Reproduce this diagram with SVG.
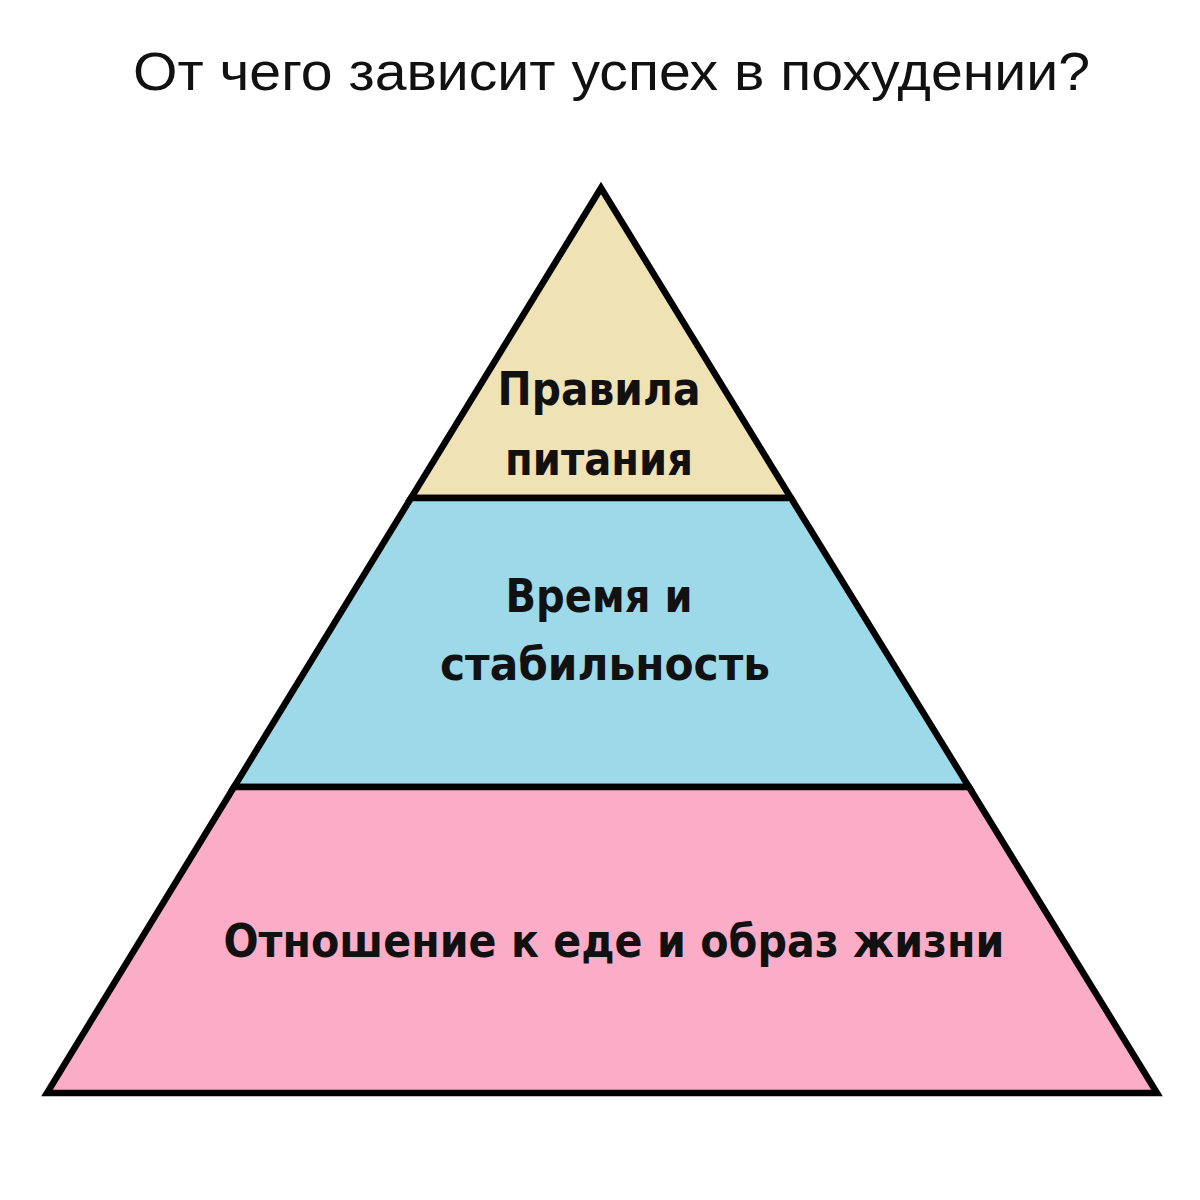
<svg xmlns="http://www.w3.org/2000/svg" width="1200" height="1200" viewBox="0 0 1200 1200">
<style>
.title{font-family:"Liberation Sans","DejaVu Sans",sans-serif;font-size:53px;fill:#111}
.lbl{font-family:"DejaVu Sans","Liberation Sans",sans-serif;font-weight:bold;font-size:47px;fill:#111;text-anchor:middle}
.layer{stroke:#000;stroke-width:6.5;stroke-linejoin:miter}
</style>
<rect width="1200" height="1200" fill="#fff"/>
<text class="title" x="133" y="90" textLength="957" lengthAdjust="spacingAndGlyphs">От чего зависит успех в похудении?</text>
<g id="top">
<polygon class="layer" points="601,188 791,498 411,498" fill="#EFE3B5"/>
<text class="lbl" x="599" y="405" textLength="203" lengthAdjust="spacingAndGlyphs">Правила</text>
<text class="lbl" x="599" y="475" textLength="188" lengthAdjust="spacingAndGlyphs">питания</text>
</g>
<g id="middle">
<polygon class="layer" points="411,498 791,498 969,787 234,787" fill="#9DD9E9"/>
<text class="lbl" x="599" y="612" textLength="187" lengthAdjust="spacingAndGlyphs">Время и</text>
<text class="lbl" x="605" y="680" textLength="330" lengthAdjust="spacingAndGlyphs">стабильность</text>
</g>
<g id="bottom">
<polygon class="layer" points="234,787 969,787 1157,1093 47,1093" fill="#FBADC8"/>
<text class="lbl" x="614" y="957" textLength="781" lengthAdjust="spacingAndGlyphs">Отношение к еде и образ жизни</text>
</g>
<g id="connectors"/>
</svg>
